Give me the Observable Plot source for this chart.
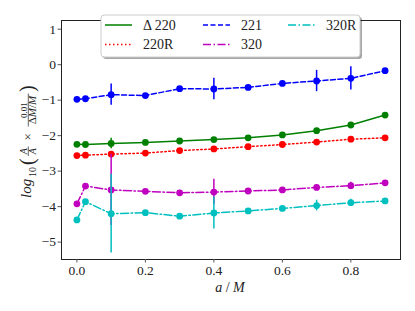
<!DOCTYPE html>
<html><head><meta charset="utf-8">
<script src="https://cdn.jsdelivr.net/npm/d3@7"></script>
<script src="https://cdn.jsdelivr.net/npm/@observablehq/plot@0.6"></script>
<style>
body{margin:0;background:#fff}
#chart svg{display:block}
</style>
</head><body><div id="chart"></div>
<script>
// ---- data ----
const spins = [0, 0.025, 0.1, 0.2, 0.3, 0.4, 0.5, 0.6, 0.7, 0.8, 0.9];
const seriesLabels = ["Δ 220", "220R", "221", "320", "320R"];
const seriesColors = ["#008000", "#ff0000", "#0000ff", "#bf00bf", "#00bfbf"];
const seriesDash = ["none", "1.5,2.5", "5,2.5", "8,2.5,1.5,2.5", "8,2.5,1.5,2.5"];

const vDelta220 = [-2.245, -2.25, -2.22, -2.19, -2.15, -2.11, -2.06, -1.98, -1.86, -1.70, -1.42];
const eDelta220 = [0, 0, 0.15, 0, 0, 0, 0, 0, 0, 0, 0];
const v220R = [-2.56, -2.55, -2.52, -2.49, -2.42, -2.375, -2.31, -2.25, -2.18, -2.10, -2.06];
const e220R = [0, 0, 0, 0, 0, 0, 0, 0, 0, 0, 0];
const v221 = [-0.977, -0.96, -0.845, -0.87, -0.676, -0.685, -0.64, -0.527, -0.46, -0.385, -0.17];
const e221 = [0, 0, 0.3, 0, 0, 0.3, 0, 0, 0.3, 0.33, 0];
const v320 = [-3.92, -3.42, -3.53, -3.57, -3.61, -3.59, -3.56, -3.53, -3.46, -3.41, -3.33];
const e320 = [0, 0, 1.0, 0, 0, 0.36, 0, 0, 0, 0.1, 0];
const v320R = [-4.375, -3.86, -4.2, -4.17, -4.27, -4.18, -4.12, -4.05, -3.97, -3.89, -3.84];
const e320R = [0, 0, 1.11, 0, 0, 0.45, 0, 0, 0.15, 0.1, 0];

const xTicks = [0, 0.2, 0.4, 0.6, 0.8];
const yTicks = [-5, -4, -3, -2, -1, 0, 1];

const seriesValues = [vDelta220, v220R, v221, v320, v320R];
const seriesErrors = [eDelta220, e220R, e221, e320, e320R];

// ---- build ----
const FONT = "'Liberation Serif', 'DejaVu Serif', serif";
const marks = [];
seriesLabels.forEach((name, k) => {
  const rows = spins.map((a, i) => ({series: name, a, v: seriesValues[k][i], e: seriesErrors[k][i]}));
  const color = seriesColors[k];
  marks.push(Plot.line(rows, {x: "a", y: "v", stroke: color, strokeWidth: 1.5,
    strokeDasharray: seriesDash[k] === "none" ? null : seriesDash[k]}));
  marks.push(Plot.ruleX(rows.filter(d => d.e > 0), {x: "a", y1: d => d.v - d.e, y2: d => d.v + d.e,
    stroke: color, strokeWidth: 1.5}));
  marks.push(Plot.dot(rows, {x: "a", y: "v", r: 3.4, fill: color, stroke: "none"}));
});

const fmtY = d => d < 0 ? "\u2212" + Math.abs(d) : String(d);

const svg = Plot.plot({
  width: 415, height: 311,
  marginLeft: 61, marginRight: 15, marginTop: 20, marginBottom: 52,
  style: {fontFamily: FONT, fontSize: "13.5px", color: "#222", background: "#fff"},
  x: {domain: [-0.045, 0.945]},
  y: {domain: [-5.49, 1.245]},
  marks: [
    ...marks,
    Plot.frame({stroke: "#222", strokeWidth: 1}),
    Plot.axisX({ticks: xTicks, tickFormat: d => d.toFixed(1), tickSize: 3.5, tickPadding: 2, label: null, stroke: "#555"}),
    Plot.axisY({ticks: yTicks, tickFormat: fmtY, tickSize: 3.5, tickPadding: 2, label: null, stroke: "#555"})
  ]
});
document.getElementById("chart").appendChild(svg);

// ---- annotations: axis labels and legend ----
const NS = "http://www.w3.org/2000/svg";
function el(tag, attrs, parent, text) {
  const e = document.createElementNS(NS, tag);
  for (const k in attrs) e.setAttribute(k, attrs[k]);
  if (text != null) e.textContent = text;
  parent.appendChild(e);
  return e;
}

// x label
const xl = el("text", {x: 230, y: 292, "text-anchor": "middle", "font-size": 14, fill: "#222"}, svg);
el("tspan", {"font-style": "italic"}, xl, "a");
el("tspan", {}, xl, " / ");
el("tspan", {"font-style": "italic"}, xl, "M");

// y label (math-like)
const g = el("g", {transform: "translate(28,141) rotate(-90)", fill: "#222", "text-anchor": "start"}, svg);
el("text", {x: -57, y: 3, "font-size": 15, "font-style": "italic"}, g, "log");
el("text", {x: -36, y: 8, "font-size": 10}, g, "10");
el("text", {x: -24, y: 6, "font-size": 20}, g, "(");
el("text", {x: -10.3, y: -1, "font-size": 10, "font-style": "italic", "text-anchor": "middle"}, g, "A");
el("line", {x1: -15, x2: -5.5, y1: 0.3, y2: 0.3, stroke: "#222", "stroke-width": 0.7}, g);
el("text", {x: -10.3, y: 8, "font-size": 10, "font-style": "italic", "text-anchor": "middle"}, g, "A");
el("text", {x: 4.3, y: 4, "font-size": 13, "text-anchor": "middle"}, g, "×");
el("text", {x: 31, y: -1.5, "font-size": 9, "text-anchor": "middle"}, g, "0.01");
el("line", {x1: 14.5, x2: 47.5, y1: 0.3, y2: 0.3, stroke: "#222", "stroke-width": 0.7}, g);
const den = el("text", {x: 31, y: 8, "font-size": 11, "text-anchor": "middle"}, g);
el("tspan", {}, den, "Δ");
el("tspan", {"font-style": "italic"}, den, "M");
el("tspan", {}, den, "/");
el("tspan", {"font-style": "italic"}, den, "M");
el("text", {x: 49, y: 6, "font-size": 20}, g, ")");

// legend
const lg = el("g", {"font-size": 14, fill: "#222", "text-anchor": "start"}, svg);
el("rect", {x: 103, y: 17, width: 259, height: 42, rx: 3, fill: "#000", "fill-opacity": 0.35}, lg);
el("rect", {x: 101, y: 15, width: 259, height: 42, rx: 3, fill: "#fff", stroke: "#ccc", "stroke-width": 1}, lg);
const legPos = [
  {lx: 105, tx: 143, y: 25},   // Δ 220
  {lx: 105, tx: 143, y: 44.5}, // 220R
  {lx: 203, tx: 241, y: 25},   // 221
  {lx: 203, tx: 241, y: 44.5}, // 320
  {lx: 288, tx: 326, y: 25}    // 320R
];
seriesLabels.forEach((name, k) => {
  const p = legPos[k];
  const ln = el("line", {x1: p.lx, x2: p.lx + 27, y1: p.y, y2: p.y, stroke: seriesColors[k], "stroke-width": 1.5}, lg);
  if (seriesDash[k] !== "none") ln.setAttribute("stroke-dasharray", seriesDash[k]);
  el("text", {x: p.tx, y: p.y + 4.5}, lg, name);
});

// force the serif family on every text element
svg.querySelectorAll("text, tspan").forEach(t => { t.style.fontFamily = FONT; });
</script>
</body></html>
